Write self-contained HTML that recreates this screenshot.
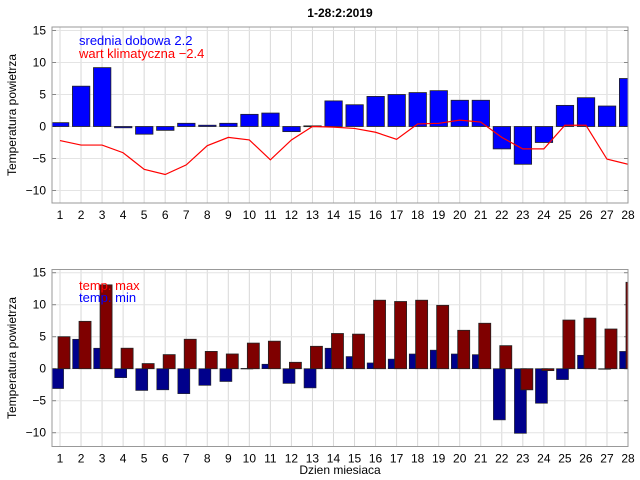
<!DOCTYPE html>
<html><head><meta charset="utf-8"><style>
body{margin:0;background:#fff;}
svg{display:block;font-family:"Liberation Sans",sans-serif;}
</style></head><body>
<svg id="chart" width="640" height="480" viewBox="0 0 640 480">
<text x="340" y="17" text-anchor="middle" font-size="12" font-weight="bold">1-28:2:2019</text>
<text transform="translate(16,115) rotate(-90)" text-anchor="middle" font-size="12">Temperatura powietrza</text>
<text transform="translate(16,358) rotate(-90)" text-anchor="middle" font-size="12">Temperatura powietrza</text>
<text x="340" y="474" text-anchor="middle" font-size="12">Dzien miesiaca</text>
<g id="top"></g>
<g id="bottom"></g>
<text x="79" y="45" font-size="13" fill="#0000ff">srednia dobowa 2.2</text>
<text x="79" y="58" font-size="13" fill="#ff0000">wart klimatyczna −2.4</text>
<text x="79" y="290" font-size="13" fill="#ff0000">temp. max</text>
<text x="79" y="302" font-size="13" fill="#0000ff">temp. min</text>
</svg>
<script>
const days = [1,2,3,4,5,6,7,8,9,10,11,12,13,14,15,16,17,18,19,20,21,22,23,24,25,26,27,28];
const dailyMean = [0.6,6.3,9.2,-0.2,-1.2,-0.6,0.5,0.2,0.5,1.9,2.1,-0.8,0.1,4.0,3.4,4.7,5.0,5.3,5.6,4.1,4.1,-3.5,-5.9,-2.5,3.3,4.5,3.2,7.5];
const climate = [-2.2,-2.9,-2.9,-4.1,-6.7,-7.5,-6.0,-3.0,-1.7,-2.1,-5.2,-2.1,0.0,-0.1,-0.3,-0.9,-2.0,0.4,0.5,1.0,0.7,-1.7,-3.5,-3.5,0.2,0.2,-5.1,-5.9];
const tMax = [5.0,7.4,13.1,3.2,0.8,2.2,4.6,2.7,2.3,4.0,4.3,1.0,3.5,5.5,5.4,10.7,10.5,10.7,9.9,6.0,7.1,3.6,-3.3,-0.3,7.6,7.9,6.2,13.5];
const tMin = [-3.1,4.6,3.2,-1.4,-3.4,-3.3,-3.9,-2.6,-2.0,0.05,0.7,-2.3,-3.0,3.2,1.9,0.9,1.5,2.3,2.9,2.3,2.2,-8.0,-10.1,-5.4,-1.7,2.1,-0.05,2.7];
const yTicks = [15,10,5,0,-5,-10];

const NS='http://www.w3.org/2000/svg';
const L=52,R=628;
const xs=d=>60+(d-1)*(568/27);
function mk(p,tag,a){const e=document.createElementNS(NS,tag);for(const k in a)e.setAttribute(k,a[k]);p.appendChild(e);return e;}

function axes(g,top,bot,y0,prefix){
  const ys=v=>y0-v*6.4;
  for(const d of days){
    const gl=mk(g,'line',{x1:xs(d),x2:xs(d),y1:top,y2:bot,stroke:'#d8d8d8','stroke-width':1});
    
    
    const t=mk(g,'text',{x:xs(d),y:bot+16,'text-anchor':'middle','font-size':12});
    t.textContent=d;
    
    
  }
  for(const v of yTicks){
    const gl=mk(g,'line',{x1:L,x2:R,y1:ys(v),y2:ys(v),stroke:'#e4e4e4','stroke-width':1});
    
    
    mk(g,'line',{x1:L,x2:L+4,y1:ys(v),y2:ys(v),stroke:'#888'});
    mk(g,'line',{x1:R-4,x2:R,y1:ys(v),y2:ys(v),stroke:'#888'});
    const t=mk(g,'text',{x:46,y:ys(v)+4,'text-anchor':'end','font-size':12});
    t.textContent=v<0?'−'+(-v):v;
    
    
  }
  return ys;
}
function box(g,top,bot,prefix){
  const b=mk(g,'rect',{x:L,y:top,width:R-L,height:bot-top,fill:'none',stroke:'#999','stroke-width':1});
  
  
}

// top chart
const gt=document.getElementById('top');
const yt=axes(gt,27,203,126.5,'top');
const clipT=mk(gt,'clipPath',{id:'ct'});mk(clipT,'rect',{x:L,y:27,width:R-L,height:176});
const bt=mk(gt,'g',{'clip-path':'url(#ct)'});
days.forEach((d,i)=>{
  const v=dailyMean[i];
  const r=mk(bt,'rect',{x:xs(d)-8.6,y:Math.min(yt(v),yt(0)),width:17.4,height:Math.max(Math.abs(yt(v)-yt(0)),0.8),fill:'#0000ff',stroke:'#222','stroke-width':0.8});
  
  
});
const pl=mk(bt,'polyline',{points:days.map((d,i)=>xs(d)+','+yt(climate[i])).join(' '),fill:'none',stroke:'#ff0000','stroke-width':1.2});


box(gt,27,203,'top');

// bottom chart
const gb=document.getElementById('bottom');
const yb=axes(gb,269.5,446.5,368.7,'bottom');
const clipB=mk(gb,'clipPath',{id:'cb'});mk(clipB,'rect',{x:L,y:269.5,width:R-L,height:177});
const bb=mk(gb,'g',{'clip-path':'url(#cb)'});
days.forEach((d,i)=>{
  const v=tMin[i];
  const r=mk(bb,'rect',{x:xs(d)-8.4,y:Math.min(yb(v),yb(0)),width:12,height:Math.max(Math.abs(yb(v)-yb(0)),0.6),fill:'#00008b',stroke:'#222','stroke-width':0.6});
  
  
});
days.forEach((d,i)=>{
  const v=tMax[i];
  const r=mk(bb,'rect',{x:xs(d)-2,y:Math.min(yb(v),yb(0)),width:12,height:Math.max(Math.abs(yb(v)-yb(0)),0.6),fill:'#7f0000',stroke:'#222','stroke-width':0.8});
  
  
});
box(gb,269.5,446.5,'bottom');
</script>
</body></html>
